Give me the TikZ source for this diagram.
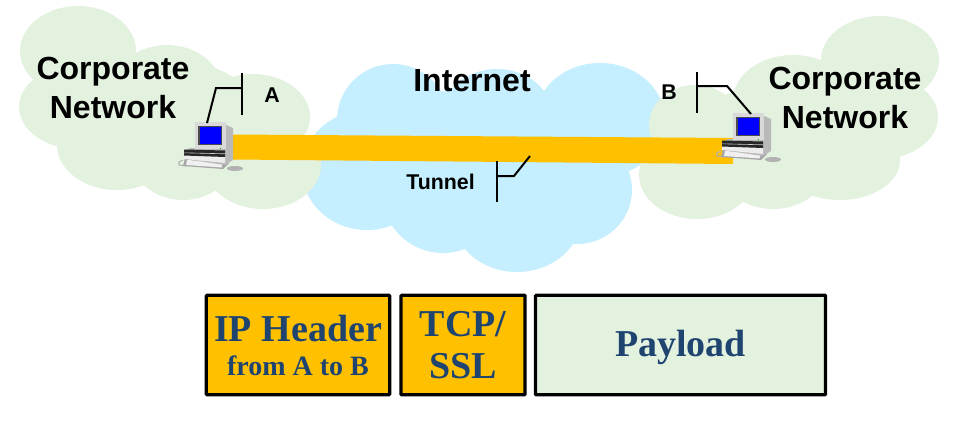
\documentclass[tikz,border=0pt]{standalone}
\usepackage{fontspec}
\setmainfont{Liberation Sans}
\newfontfamily\pktfont{Liberation Serif}
\usetikzlibrary{positioning}
\definecolor{lanGreen}{HTML}{E3F1DF}
\definecolor{netBlue}{HTML}{C5EEFE}
\definecolor{tunnelGold}{HTML}{FFC000}
\definecolor{pktBlue}{HTML}{1F4470}
\tikzset{
    title/.style={font=\fontsize{24}{29}\selectfont\bfseries, align=center, inner sep=0pt},
    tag/.style={font=\fontsize{16}{19}\selectfont\bfseries, inner sep=0pt},
    callout/.style={line width=1.5pt, line join=miter},
    pktbox/.style={draw=black, line width=2.4pt, rounded corners=0.5pt, inner sep=0pt, align=center,
        text=pktBlue, font=\pktfont\bfseries\fontsize{28.5}{33}\selectfont},
    pics/computer/.style={code={
        % mouse and cable
        \fill[gray!60] (40,46.5) ellipse [x radius=8, y radius=2.5];
        \draw[gray!60, line width=0.8pt] (-12,38) -- (-16,40) -- (-16,43) -- (-8,44);
        % keyboard
        \fill[gray!70] (-10,36) -- (28,38) -- (34,41) -- (28,47) -- (-12,44) -- cycle;
        \fill[gray!12] (-8,38) -- (27,40) -- (27,45.5) -- (-9,43) -- cycle;
        % base unit
        \fill[gray!55] (-11,29) -- (-5,26) -- (38,26) -- (38,38) -- (30,43) -- (-11,37) -- cycle;
        \fill[gray!15] (-11,29) -- (30,30) -- (30,41) -- (-11,37) -- cycle;
        \fill[black!85] (-11,27.5) -- (30,28.5) -- (30,35) -- (-11,33.5) -- cycle;
        \fill[gray!40] (-11,30.5) -- (30,31.5) -- (30,32.1) -- (-11,31.1) -- cycle;
        % monitor
        \fill[gray!55] (31,3) -- (38,6) -- (38,26) -- (31,27) -- cycle;
        \fill[gray!30] (0,0) -- (31,0) -- (31,26.5) -- (0,26.5) -- cycle;
        \fill[black!70] (3,4) rectangle (26.5,23);
        \fill[blue] (4.5,5) rectangle (25.5,22);
        \fill[green!70!black] (24.5,25.5) rectangle ++(1.5,1);
    }}
}
\begin{document}
\begin{tikzpicture}[x=0.75pt, y=-0.75pt]
\useasboundingbox (0,0) rectangle (955,429);

% --- Internet cloud ---
\foreach \cx/\cy/\rx/\ry in {393/120/56/56, 497/115/55/46, 600/120/65/57, 367/170/65/60,
    443/195/60/58, 517/215/65/57, 577/190/55/54, 470/160/130/70}
{
    \fill[netBlue] (\cx,\cy) ellipse [x radius=\rx, y radius=\ry];
}

% --- Corporate clouds ---
\foreach \cx/\cy/\rx/\ry in {78/51/58/45, 167/90/55/45, 253/117/57/43, 263/165/58/44,
    78/107/59/42, 117/145/60/45, 183/160/50/40, 170/120/90/60}
{
    \fill[lanGreen] (\cx,\cy) ellipse [x radius=\rx, y radius=\ry];
}
\foreach \cx/\cy/\rx/\ry in {880/60/59/44, 880/117/58/42, 793/100/60/45, 695/125/46/40,
    697/175/58/44, 773/165/55/44, 840/160/60/40, 790/130/90/50}
{
    \fill[lanGreen] (\cx,\cy) ellipse [x radius=\rx, y radius=\ry];
}

% --- Tunnel ---
\fill[tunnelGold] (232,134.5) -- (733,138) -- (733,164) -- (232,159.5) -- cycle;

% --- Hosts ---
\pic (hostA) at (195,122) {computer};
\pic (hostB) at (733,113) {computer};

% --- Labels ---
\node[title] (corpA) at (113,88) {Corporate\\Network};
\node[title] (corpB) at (845,98) {Corporate\\Network};
\node[title] (inet) at (472,81) {Internet};
\node[tag] (labelA) at (272,95) {A};
\node[tag] (labelB) at (669,92) {B};
\node[tag] (labelTunnel) at (440.5,182) {Tunnel};

% --- Callouts ---
\coordinate (barAtop) at (242,73);
\coordinate (barAbot) at (242,115);
\coordinate (barAmid) at (242,88);
\coordinate (kneeA) at (216,88);
\coordinate (tipA) at (207,123);
\draw[callout] (barAtop) -- (barAbot);
\draw[callout] (barAmid) -- (kneeA) -- (tipA);

\coordinate (barBtop) at (697,72);
\coordinate (barBbot) at (697,113);
\coordinate (barBmid) at (697,86);
\coordinate (kneeB) at (727,86);
\coordinate (tipB) at (751,114);
\draw[callout] (barBtop) -- (barBbot);
\draw[callout] (barBmid) -- (kneeB) -- (tipB);

\coordinate (barTtop) at (497,161);
\coordinate (barTbot) at (497,202);
\coordinate (barTmid) at (497,176);
\coordinate (kneeT) at (514,176);
\coordinate (tipT) at (530,156);
\draw[callout] (barTtop) -- (barTbot);
\draw[callout] (barTmid) -- (kneeT) -- (tipT);

% --- Packet ---
\node[pktbox, fill=tunnelGold, minimum width=137.5pt, minimum height=74.5pt] (ipHeader) at (298,345)
    {IP Header\\[-7.5pt]{\fontsize{21}{25}\selectfont from A to B}};
\node[pktbox, fill=tunnelGold, minimum width=93pt, minimum height=74.5pt] (tcpSsl) at (463,345)
    {TCP/\\[-1.5pt]SSL};
\node[pktbox, fill=lanGreen, minimum width=217.5pt, minimum height=74.5pt, text depth=3pt] (payload) at (680.5,345)
    {Payload};

\end{tikzpicture}
\end{document}
